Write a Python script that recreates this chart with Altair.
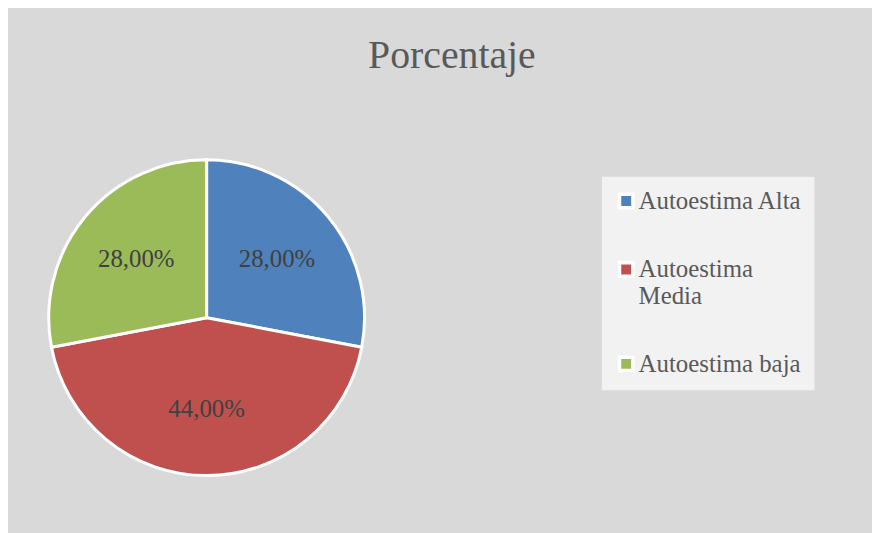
import altair as alt
import pandas as pd

# ---- data ----
categories = ["Autoestima Alta", "Autoestima Media", "Autoestima baja"]
percentages = [28.0, 44.0, 28.0]
label_texts = ["28,00%", "44,00%", "28,00%"]
slice_order = [0, 1, 2]
colors = ["#4f81bd", "#c0504d", "#9bbb59"]

df = pd.DataFrame({
    "categoria": categories,
    "porcentaje": percentages,
    "etiqueta": label_texts,
    "orden": slice_order,
})

FONT = "Liberation Serif"
CX, CY, R = 200, 310, 159

theta = alt.Theta("porcentaje:Q", stack=True)
order = alt.Order("orden:Q")

pie = alt.Chart(df).mark_arc(
    radius=R, stroke="white", strokeWidth=3, x=CX, y=CY
).encode(
    theta=theta,
    order=order,
    color=alt.Color(
        "categoria:N",
        scale=alt.Scale(domain=categories, range=colors),
        sort=categories,
        legend=alt.Legend(
            title=None,
            orient="none",
            legendX=598,
            legendY=168,
            fillColor="#f2f2f2",
            padding=12,
            symbolType="square",
            symbolSize=182,
            symbolStrokeColor="white",
            symbolStrokeWidth=3.5,
            symbolOpacity=1,
            labelFont=FONT,
            labelFontSize=25,
            labelColor="#595959",
            labelLimit=400,
            labelOffset=0,
            rowPadding=40,
            labelExpr="datum.label == 'Autoestima Media' ? ['Autoestima', 'Media'] : datum.label",
        ),
    ),
)

labels = alt.Chart(df).mark_text(
    radius=92, x=CX, y=CY, font=FONT, fontSize=25, color="#404040"
).encode(
    theta=theta,
    order=order,
    text="etiqueta:N",
)

chart = alt.layer(pie, labels).properties(
    width=870,
    height=525,
    background="#d9d9d9",
    padding=0,
    autosize=alt.AutoSizeParams(type="none"),
    title=alt.TitleParams(
        "Porcentaje",
        font=FONT,
        fontSize=40,
        fontWeight="normal",
        color="#595959",
        anchor="middle",
        baseline="alphabetic",
        offset=0,
        dx=12,
        dy=99,
    ),
).configure_view(stroke=None)

chart.save("out.html", embed_options={"renderer": "svg", "actions": False})
